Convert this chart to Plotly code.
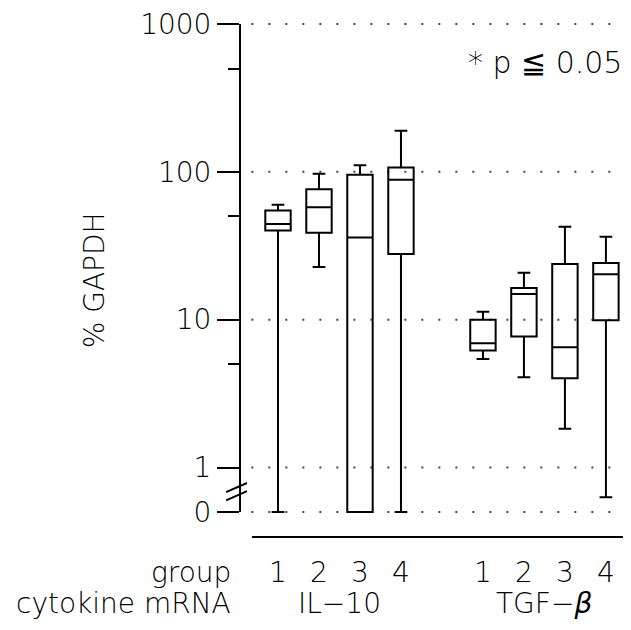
import plotly.graph_objects as go

# ---- data ----
cytokines = ["IL\u221210", "TGF\u2212<i>\u03b2</i>"]
groups = ["1", "2", "3", "4"]
positions_il10 = [1, 2, 3, 4]
positions_tgf = [6, 7, 8, 9]

il10_lower = [0, 22.7, 0, 0]
il10_q1 = [40.1, 38.8, 0, 27.8]
il10_median = [44.3, 57.7, 35.9, 88.3]
il10_q3 = [54.7, 76.4, 95.4, 107]
il10_upper = [59.8, 96.9, 111, 190]

tgf_lower = [5.43, 4.08, 1.83, 0.63]
tgf_q1 = [6.18, 7.68, 4.02, 9.9]
tgf_median = [6.92, 14.9, 6.5, 20.3]
tgf_q3 = [10.0, 16.4, 23.8, 24.2]
tgf_upper = [11.3, 20.8, 42.5, 36.4]

ytick_vals = [0, 1, 10, 100, 1000]
ytick_text = ["0", "1", "10", "100", "1000"]
yminor_vals = [5, 50, 500]
ylabel = "% GAPDH"
note = "* p \u2266 0.05"

ZERO_POS = 0.5  # where "0" sits on the broken log axis


def pos(v):
    return ZERO_POS if v == 0 else v


def P(vals):
    return [pos(v) for v in vals]


FONT = "DejaVu Sans"
FS = 28

fig = go.Figure()
fig.add_trace(go.Box(
    x=positions_il10 + positions_tgf,
    lowerfence=P(il10_lower + tgf_lower),
    q1=P(il10_q1 + tgf_q1),
    median=P(il10_median + tgf_median),
    q3=P(il10_q3 + tgf_q3),
    upperfence=P(il10_upper + tgf_upper),
    width=0.62,
    whiskerwidth=0.5,
    line=dict(color="black", width=2),
    fillcolor="rgba(255,255,255,0)",
    boxpoints=False,
    hoverinfo="skip",
    showlegend=False,
))

yvals = [pos(v) for v in ytick_vals]
shapes = []
# dotted grid lines
for v in yvals:
    shapes.append(dict(type="line", xref="x", yref="y", x0=0.35, x1=9.3, y0=v, y1=v,
                       line=dict(color="#444", width=2, dash="2px,15px"), layer="below"))
# y axis line (from 0 to 1000)
shapes.append(dict(type="line", xref="paper", yref="y", x0=0, x1=0, y0=yvals[0], y1=yvals[-1],
                   line=dict(color="black", width=2)))
# axis break marks
for dy in [0, 0.016]:
    shapes.append(dict(type="line", xref="paper", yref="paper",
                       x0=-0.036, y0=0.068 - dy, x1=0.018, y1=0.086 - dy,
                       line=dict(color="black", width=2)))
# baseline under the plot
shapes.append(dict(type="line", xref="paper", yref="paper", x0=0.031, x1=0.992, y0=-0.0195, y1=-0.0195,
                   line=dict(color="black", width=2)))

ann = []
font = dict(family=FONT, size=FS, color="black", weight=200)
ann.append(dict(text="group", xref="paper", yref="paper", x=-0.018, y=-0.088,
                xanchor="right", yanchor="middle", showarrow=False, font=font))
ann.append(dict(text="cytokine mRNA", xref="paper", yref="paper", x=-0.018, y=-0.149,
                xanchor="right", yanchor="middle", showarrow=False, font=font))
for xs, name in [(positions_il10, cytokines[0]), (positions_tgf, cytokines[1])]:
    for xp, g in zip(xs, groups):
        ann.append(dict(text=g, xref="x", yref="paper", x=xp, y=-0.088,
                        xanchor="center", yanchor="middle", showarrow=False, font=font))
    ann.append(dict(text=name, xref="x", yref="paper", x=sum(xs) / len(xs), y=-0.149,
                    xanchor="center", yanchor="middle", showarrow=False, font=font))
ann.append(dict(text=ylabel, xref="paper", yref="paper", x=-0.378, y=0.482, textangle=-90,
                xanchor="center", yanchor="middle", showarrow=False, font=font))
ann.append(dict(text=note, xref="paper", yref="paper", x=0.995, y=0.908,
                xanchor="right", yanchor="middle", showarrow=False,
                font=dict(family=FONT, size=30, color="black", weight=200)))

# the page adds an 8px body margin, so the figure is 8px smaller and margins shifted
fig.update_layout(
    width=623, height=614,
    margin=dict(l=232, r=5, t=7, b=95, autoexpand=False),
    paper_bgcolor="white", plot_bgcolor="white",
    shapes=shapes, annotations=ann,
    xaxis=dict(range=[0.073, 9.49], visible=False, automargin=False),
    yaxis=dict(type="log", range=[-0.4025, 3.061], automargin=False,
               tickvals=yvals, ticktext=ytick_text, ticklabeloverflow="allow",
               ticks="outside", ticklen=22, tickwidth=2, tickcolor="black",
               tickfont=font, showgrid=False, zeroline=False, showline=False,
               minor=dict(tickvals=yminor_vals, ticks="outside", ticklen=11,
                          tickwidth=2, tickcolor="black", showgrid=False)),
)

fig.write_html("out.html")
